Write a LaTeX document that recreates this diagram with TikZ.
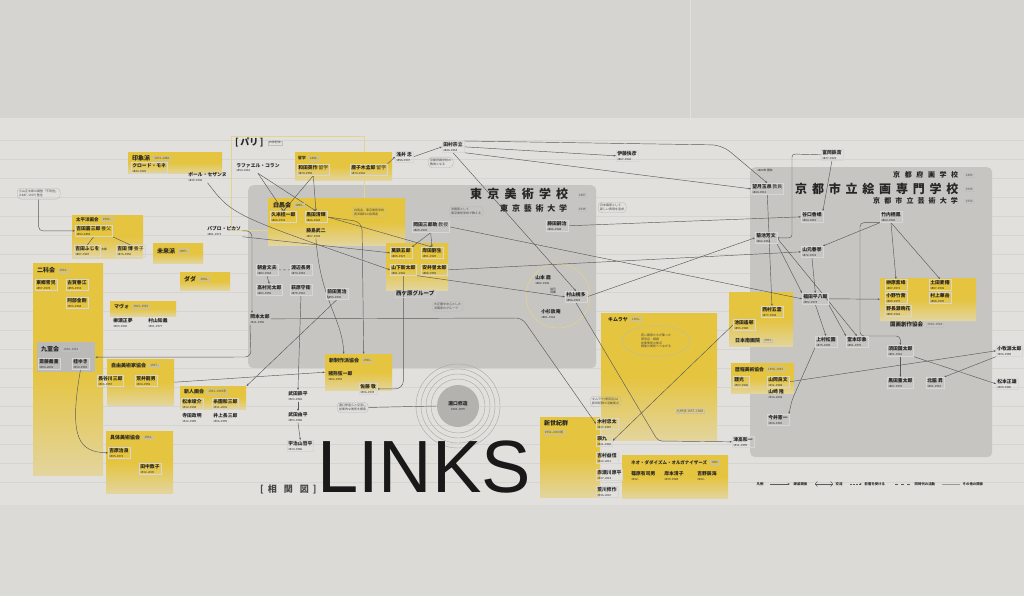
\documentclass[tikz,border=0pt]{standalone}
\usepackage{fontspec}
\setmainfont{Noto Sans CJK JP}
\newfontfamily\linksfont{Liberation Sans}
\usetikzlibrary{arrows.meta,shapes.geometric}
\pgfdeclarelayer{bg}
\pgfdeclarelayer{lines}
\pgfsetlayers{bg,lines,main}
\definecolor{wall}{HTML}{D5D4D1}
\definecolor{paper}{HTML}{E1E0DD}
\definecolor{floorc}{HTML}{DBDAD7}
\definecolor{gbox}{HTML}{C6C5C2}
\definecolor{gdark}{HTML}{BBBAB7}
\definecolor{ylw}{HTML}{E5C43F}
\definecolor{ink}{HTML}{262626}
\definecolor{lnc}{HTML}{5A5A5A}
\definecolor{rulec}{HTML}{D5D4D1}
\definecolor{ringc}{HTML}{A8A7A4}
\definecolor{discc}{HTML}{B3B2AF}
\definecolor{pale}{HTML}{E2D38F}
\newcommand{\dfont}{\fontsize{2.8}{3.2}\selectfont\mdseries}
\newcommand{\pnm}[2]{#1\\[-0.6pt]{\dfont #2}}
\tikzset{
  nm/.style={anchor=north west, align=left, inner sep=1.2pt, font=\fontsize{4.8}{5.4}\selectfont\bfseries, text=ink, draw=black!16, line width=0.3pt},
  nmf/.style={nm, draw=none},
  glab/.style={anchor=north west, inner sep=1pt, font=\fontsize{6}{7}\selectfont\bfseries, text=ink},
  gdate/.style={anchor=west, inner sep=0.8pt, font=\fontsize{3}{3.5}\selectfont, text=ink!80, draw=black!25, line width=0.3pt},
  note/.style={anchor=north west, align=left, rounded corners=4pt, draw=black!28, line width=0.35pt, inner sep=2pt, font=\fontsize{3}{3.8}\selectfont, text=ink!85},
  ybox/.style={anchor=north west, inner sep=0pt, top color=ylw, bottom color=ylw!40!paper, middle color=ylw, draw=none},
  gregion/.style={anchor=north west, inner sep=0pt, fill=gbox, rounded corners=5pt, draw=none},
  ttl/.style={anchor=north west, inner sep=0pt, text=ink, font=\bfseries},
  conn/.style={draw=lnc, line width=0.45pt, -{Stealth[length=2.4pt,width=1.8pt]}},
  link/.style={draw=lnc, line width=0.45pt},
  lgd/.style={anchor=west, inner sep=0.5pt, font=\fontsize{3.4}{4}\selectfont\bfseries, text=ink},
}
\newcommand{\grp}[4]{\node[glab] (#1) at (#2) {#3};\node[gdate] (#1d) at ([xshift=2pt]#1.east) {#4};}
\newcommand{\ybx}[5]{\node[ybox, minimum width=#4pt, minimum height=#5pt] (#1) at (#2,#3) {};}
\begin{document}
\begin{tikzpicture}[x=1pt,y=-1pt]
\useasboundingbox (0,0) rectangle (1024,596);
\begin{pgfonlayer}{bg}
\fill[wall] (0,0) rectangle (1024,596);
\fill[paper] (0,118) rectangle (1024,505);
\fill[floorc] (0,505) rectangle (1024,596);
\draw[black!12, line width=0.6pt] (690,0) -- (690,118);
\foreach \yy in {140,159,...,500} \draw[rulec, line width=0.3pt] (0,\yy) -- (1024,\yy);
\node[gregion, minimum width=348pt, minimum height=183pt] (tokyoreg) at (248,185) {};
\node[gregion, minimum width=242pt, minimum height=290pt] (kyotoreg) at (750,167) {};
\draw[pale, line width=0.5pt] (231,136) rectangle (364,230);
\ybx{imprbox}{128}{152}{94}{21}
\ybx{taiheibox}{72}{215}{71}{43}
\ybx{miraibox}{153}{243}{50}{20}
\ybx{dadabox}{180}{272}{50}{18}
\ybx{nikabox}{33}{263}{70}{212}
\node[anchor=north west, inner sep=0pt, fill=gdark, minimum width=58pt, minimum height=30pt] (kyushitsubox) at (37,342) {};
\ybx{mavobox}{110}{301}{66}{15}
\ybx{jiyubox}{107}{359}{67}{46}
\ybx{shinjinbox}{180}{386}{66}{23}
\ybx{gutaibox}{106}{431}{67}{62}
\ybx{parisybox}{295}{152}{97}{28}
\ybx{hakubabox}{268}{198}{137}{47}
\ybx{nishigabox}{386}{243}{62}{47}
\ybx{shinseibox}{325}{354}{67}{36}
\ybx{kimurayabox}{601}{313}{116}{127}
\ybx{shinseikibox}{540}{417}{60}{80}
\ybx{neodadabox}{622}{455}{106}{43}
\ybx{nangabox}{729}{292}{64}{54}
\ybx{rekiteibox}{731}{363}{63}{30}
\ybx{kokugabox}{880}{278}{96}{42}
\foreach \rr in {27,32,37,42} \draw[ringc, line width=0.4pt] (458,406) circle[radius=\rr pt];
\draw[pale, line width=0.6pt] (558,296) circle[radius=32pt];
\end{pgfonlayer}
% ---------- left ----------
\grp{impr}{131,154}{印象派}{1874–1886}
\node[nm] (monet) at (131,162) {\pnm{クロード・モネ}{1840–1926}};
\node[nmf] (cezanne) at (187,171) {\pnm{ポール・セザンヌ}{1839–1906}};
\node[note] (fudosha) at (17,188) {小山正太郎の画塾「不同舎」\\(1887–1907) 塾生};
\grp{taihei}{75,216}{\fontsize{4.5}{5}\selectfont 太平洋画会}{1902–}
\node[nm] (yoshidaK) at (75,225) {\pnm{吉田嘉三郎 \textmd{養父}}{1854–1894}};
\node[nm] (yoshidaF) at (74,245) {\pnm{吉田ふじを}{1887–1987}};
\node[nmf, font=\dfont] (fuufu) at (100,247) {夫婦};
\node[nm] (yoshidaH) at (116,245) {\pnm{吉田 博 \textmd{養子}}{1876–1950}};
\grp{mirai}{156,247}{未来派}{1909–}
\grp{dada}{183,275}{ダダ}{1916–}
\node[nmf] (picasso) at (206,225) {\pnm{パブロ・ピカソ}{1881–1973}};
\grp{nika}{36,266}{二科会}{1914–}
\node[nm] (togo) at (35,279) {\pnm{東郷青児}{1897–1978}};
\node[nm] (koga) at (66,279) {\pnm{古賀春江}{1895–1933}};
\node[nm] (abe) at (66,297) {\pnm{阿部金剛}{1900–1968}};
\grp{kyushitsu}{40,345}{九室会}{1938–1943}
\node[nm] (saito) at (38,358) {\pnm{斎藤義重}{1904–2001}};
\node[nm] (katsura) at (72,358) {\pnm{桂ゆき}{1913–1991}};
\grp{mavo}{113,303}{\fontsize{5}{6}\selectfont マヴォ}{1923–1925}
\node[nmf] (yanase) at (112,317) {\pnm{柳瀬正夢}{1900–1945}};
\node[nmf] (murayamaT) at (147,317) {\pnm{村山知義}{1901–1977}};
\grp{jiyu}{110,362}{\fontsize{5}{6}\selectfont 自由美術家協会}{1937–}
\node[nm] (hasegawa) at (97,375) {\pnm{長谷川三郎}{1906–1957}};
\node[nm] (arai) at (135,375) {\pnm{荒井龍男}{1904–1955}};
\grp{shinjin}{183,388}{\fontsize{5}{6}\selectfont 新人画会}{1943–1945年}
\node[nm] (matsumoto) at (181,398) {\pnm{松本竣介}{1912–1948}};
\node[nm] (itozono) at (212,398) {\pnm{糸園和三郎}{1911–2001}};
\node[nmf] (terada) at (181,412) {\pnm{寺田政明}{1912–1989}};
\node[nmf] (inoue) at (212,412) {\pnm{井上長三郎}{1906–1995}};
\grp{gutai}{109,434}{\fontsize{5}{6}\selectfont 具体美術協会}{1954–}
\node[nm] (yoshihara) at (108,447) {\pnm{吉原治良}{1905–1972}};
\node[nm] (tanaka) at (139,463) {\pnm{田中敦子}{1932–2005}};
% ---------- Paris ----------
\node[glab, font=\fontsize{9}{10}\selectfont\bfseries] (paris) at (234,137) {[\,パリ\,]};
\node[gdate] (parisd) at ([xshift=3pt]paris.east) {19世紀末};
\node[nmf] (collin) at (235,162) {\pnm{ラファエル・コラン}{1850–1916}};
\grp{ryugaku}{297,155}{\fontsize{3.8}{4}\selectfont 留学}{1884–}
\node[nm] (wada) at (297,164) {\pnm{和田英作 \textmd{留学}}{1874–1959}};
\node[nm] (kanokogi) at (350,164) {\pnm{鹿子木孟郎 \textmd{留学}}{1874–1941}};
\node[nm] (asai) at (395,151) {\pnm{浅井 忠}{1856–1907}};
\node[nm] (tamura) at (442,141) {\pnm{田村宗立}{1846–1918}};
\node[note] (tamuranote) at (428,157) {京都府画学校の\\教員となる};
\node[nm] (hirano) at (616,150) {\pnm{伊藤快彦}{1867–1942}};
\node[note] (nihonganote) at (598,202) {日本画家として\\新しい表現を追求};
\node[nm] (tomioka) at (821,149) {\pnm{富岡鉄斎}{1837–1924}};
% ---------- Tokyo ----------
\node[ttl, font=\fontsize{12}{12}\selectfont\bfseries] (tbg) at (470,188) {東\kern5.2pt 京\kern5.2pt 美\kern5.2pt 術\kern5.2pt 学\kern5.2pt 校};
\node[gdate] (tbgd) at (578,195) {1887};
\node[ttl, font=\fontsize{8}{8}\selectfont\bfseries] (tgd) at (500,204) {東\kern3.8pt 京\kern3.8pt 藝\kern3.8pt 術\kern3.8pt 大\kern3.8pt 学};
\node[gdate] (tgdd) at (578,209) {1949};
\grp{hakuba}{272,201}{白馬会}{1896–}
\node[nm] (kume) at (270,211) {\pnm{久米桂一郎}{1866–1934}};
\node[nm] (kuroda) at (305,211) {\pnm{黒田清輝}{1866–1924}};
\node[nmf] (fujishima) at (305,227) {\pnm{藤島武二}{1867–1943}};
\node[note] (hakubanote) at (352,207) {白馬会、東京美術学校\\西洋画科の指導者};
\node[note] (tokyonote) at (449,206) {洋画家として\\東京美術学校で教える};
\node[nm] (okada) at (412,221) {\pnm{岡田三郎助 \textmd{教授}}{1869–1939}};
\node[nm] (fujita) at (546,220) {\pnm{藤田嗣治}{1886–1968}};
\node[nm] (yorozu) at (390,247) {\pnm{萬鉄五郎}{1885–1927}};
\node[nm] (kishida) at (421,247) {\pnm{岸田劉生}{1891–1929}};
\node[nm] (yamashita) at (390,264) {\pnm{山下新太郎}{1881–1966}};
\node[nm] (yasui) at (421,264) {\pnm{安井曽太郎}{1888–1955}};
\node[glab, draw=black!20, line width=0.3pt, font=\fontsize{5.5}{6}\selectfont\bfseries] (nishiga) at (395,290) {西ケ原グループ};
\node[note] (nishiganote) at (432,301) {大正期を中心とした\\洋画家のグループ};
\node[nm] (asakura) at (256,264) {\pnm{朝倉文夫}{1883–1964}};
\node[nm] (watanabe) at (290,264) {\pnm{渡辺長男}{1874–1952}};
\node[nm] (takamura) at (256,284) {\pnm{高村光太郎}{1883–1956}};
\node[nm] (ogiwara) at (290,284) {\pnm{萩原守衛}{1879–1910}};
\node[nm] (maeda) at (326,288) {\pnm{前田寛治}{1896–1930}};
\node[nmf] (okamoto) at (249,313) {\pnm{岡本太郎}{1911–1996}};
\node[nmf] (yamamotoK) at (534,274) {\pnm{山本 鼎}{1882–1946}};
\node[nm] (murayamaK) at (565,291) {\pnm{村山槐多}{1896–1919}};
\node[nmf] (kosugi) at (540,308) {\pnm{小杉放庵}{1881–1964}};
\node[nmf, font=\dfont] (itoko) at (549,287) {従兄\\同郷};
% ---------- bottom ----------
\grp{shinsei}{328,357}{\fontsize{5}{6}\selectfont 新制作派協会}{1936–}
\node[nmf] (inokuma) at (327,370) {\pnm{猪熊弦一郎}{1902–1993}};
\node[nm] (satoK) at (359,383) {\pnm{佐藤 敬}{1906–1978}};
\node[nmf] (takeda1) at (287,390) {\pnm{武田鉄平}{1903–1982}};
\node[nmf] (takeda2) at (287,411) {\pnm{武田由平}{1893–1986}};
\node[nm] (ujiyama) at (287,440) {\pnm{宇治山哲平}{1910–1986}};
\node[note] (takinote) at (337,402) {瀧口修造らと交流し\\前衛的な美術を模索};
\node[circle, fill=discc, minimum size=42pt, inner sep=0pt, align=center, font=\fontsize{4.8}{5.4}\selectfont\bfseries, text=ink] (taki) at (458,406) {瀧口修造\\[-0.6pt]{\dfont 1903–1979}};
\node[anchor=base west, inner sep=0pt, text=black!90, font=\linksfont\fontsize{74}{74}\selectfont] (links) at (317,492) {LINKS};
\node[anchor=base west, inner sep=0pt, text=ink!85, font=\fontsize{9}{9}\selectfont\bfseries] (soukan) at (260,492) {[\hspace{4pt}相\hspace{7pt}関\hspace{7pt}図\hspace{4pt}]};
% ---------- right lower ----------
\node[glab] (shinseiki) at (543,419) {新世紀群};
\node[gdate, anchor=north west] (shinseikid) at (544,430) {1951–2000頃};
\node[nm] (kimura) at (596,418) {\pnm{木村忠太}{1917–1987}};
\node[nm] (eikyu) at (596,435) {\pnm{瑛九}{1911–1960}};
\node[nm] (yoshimura) at (596,452) {\pnm{吉村益信}{1932–2011}};
\node[nm] (akasegawa) at (596,469) {\pnm{赤瀬川原平}{1937–2014}};
\node[nm] (arakawa) at (596,486) {\pnm{荒川修作}{1936–2010}};
\grp{neodada}{630,459}{\fontsize{4.5}{5}\selectfont ネオ・ダダイズム・オルガナイザーズ}{1960}
\node[nmf] (shinohara) at (630,470) {\pnm{篠原有司男}{1932–}};
\node[nmf] (kishimoto) at (663,470) {\pnm{岸本清子}{1939–1988}};
\node[nmf] (yoshino) at (696,470) {\pnm{吉野辰海}{1940–}};
\grp{kimuraya}{607,316}{\fontsize{5}{6}\selectfont キムラヤ}{1926–}
\node[ellipse, draw=black!28, line width=0.35pt, minimum width=68pt, minimum height=31pt, inner sep=0pt, align=left, font=\fontsize{3}{3.9}\selectfont, text=ink!85] (kimurayanote) at (656,341) {若い画家たちが集った\\喫茶店・画廊\\前衛美術の拠点\\戦後の美術へつながる};
\node[note] (kissanote) at (590,396) {キムラヤ(喫茶店)は\\新世紀群の活動拠点};
\node[gdate, font=\fontsize{3.2}{3.6}\selectfont] (kyushuha) at (676,411) {九州派 1957–1968};
\node[nm] (tsutaka) at (732,436) {\pnm{津高和一}{1911–1995}};
% ---------- Kyoto ----------
\node[ttl, font=\fontsize{7}{7}\selectfont\bfseries] (kfg) at (893,171) {京\kern4.6pt 都\kern4.6pt 府\kern4.6pt 画\kern4.6pt 学\kern4.6pt 校};
\node[gdate] (kfgd) at (965,175) {1880};
\node[ttl, font=\fontsize{12}{12}\selectfont\bfseries] (kcs) at (795,183) {京\kern4.8pt 都\kern4.8pt 市\kern4.8pt 立\kern4.8pt 絵\kern4.8pt 画\kern4.8pt 専\kern4.8pt 門\kern4.8pt 学\kern4.8pt 校};
\node[gdate] (kcsd) at (965,189) {1909};
\node[ttl, font=\fontsize{7}{7}\selectfont\bfseries] (kcg) at (873,197) {京\kern4.1pt 都\kern4.1pt 市\kern4.1pt 立\kern4.1pt 芸\kern4.1pt 術\kern4.1pt 大\kern4.1pt 学};
\node[gdate] (kcgd) at (965,201) {1950};
\node[nmf, font=\dfont] (kfgopen) at (756,168) {1880年 開校};
\node[nm] (mochizuki) at (751,183) {\pnm{望月玉泉 \textmd{教員}}{1844–1913}};
\node[nm] (taniguchi) at (801,211) {\pnm{谷口香嶠}{1864–1915}};
\node[nm] (takeuchi) at (880,211) {\pnm{竹内栖鳳}{1864–1942}};
\node[nm] (kikuchi) at (755,232) {\pnm{菊池芳文}{1862–1918}};
\node[nm] (yamamotoS) at (801,246) {\pnm{山元春挙}{1872–1933}};
\node[nm] (fukuda) at (802,293) {\pnm{福田平八郎}{1892–1974}};
\node[nm] (nishimura) at (761,306) {\pnm{西村五雲}{1877–1938}};
\node[nm] (ikeda) at (733,319) {\pnm{池田遙邨}{1895–1988}};
\grp{nanga}{734,337}{\fontsize{5}{6}\selectfont 日本南画院}{1921}
\grp{rekitei}{734,366}{\fontsize{4.8}{6}\selectfont 歴程美術協会}{1938–1943}
\node[nm] (aikou) at (733,376) {\pnm{靉光}{1907–1946}};
\node[nm] (yamaoka) at (767,376) {\pnm{山岡良文}{1911–1968}};
\node[nmf] (yamazaki) at (767,388) {\pnm{山崎 隆}{1916–2004}};
\node[nm] (imai) at (767,414) {\pnm{今井憲一}{1906–1981}};
\node[nm] (uemura) at (815,336) {\pnm{上村松園}{1875–1949}};
\node[nm] (domoto) at (846,336) {\pnm{堂本印象}{1891–1975}};
\node[nm] (sakakibara) at (885,279) {\pnm{榊原紫峰}{1887–1971}};
\node[nm] (tsuchida) at (929,279) {\pnm{土田麦僊}{1887–1936}};
\node[nm] (ono) at (885,292) {\pnm{小野竹喬}{1889–1979}};
\node[nm] (murakami) at (929,292) {\pnm{村上華岳}{1888–1939}};
\node[nm] (nonagase) at (885,305) {\pnm{野長瀬晩花}{1889–1964}};
\grp{kokuga}{889,321}{\fontsize{5.5}{6}\selectfont 国画創作協会}{1918–1928}
\node[nm] (suda) at (887,345) {\pnm{須田国太郎}{1891–1961}};
\node[nm] (kurodaJ) at (887,377) {\pnm{黒田重太郎}{1887–1970}};
\node[nm] (kitawaki) at (926,377) {\pnm{北脇 昇}{1901–1951}};
\node[nm] (komaki) at (996,345) {\pnm{小牧源太郎}{1906–1989}};
\node[nm] (matsumotoM) at (996,378) {\pnm{松本正雄}{1909–1980}};
% ---------- legend ----------
\node[lgd] (lg0) at (756,484) {凡例};
\coordinate (la1) at (770,484); \coordinate (la2) at (790,484);
\node[lgd] (lg1) at (793,484) {師弟関係};
\coordinate (lb1) at (815,484); \coordinate (lb2) at (833,484);
\node[lgd] (lg2) at (835,484) {交流};
\coordinate (lc1) at (850,484); \coordinate (lc2) at (862,484);
\node[lgd] (lg3) at (864,484) {影響を受ける};
\coordinate (ld1) at (895,484); \coordinate (ld2) at (912,484);
\node[lgd] (lg4) at (914,484) {同時代の活動};
\coordinate (le1) at (942,484); \coordinate (le2) at (960,484);
\node[lgd] (lg5) at (962,484) {その他の関係};
% ---------- connectors ----------
\begin{pgfonlayer}{lines}
\draw[conn] (la1) -- (la2);
\draw[conn, <->] (lb1) -- (lb2);
\draw[conn, densely dotted] (lc1) -- (lc2);
\draw[link, dashed] (ld1) -- (ld2);
\draw[link, black!40] (le1) -- (le2);
\draw[conn, rounded corners=4pt] (fudosha.south) |- (yoshidaK.west);
\draw[link] (yoshidaK.south) -- (yoshidaF.north);
\draw[link] (yoshidaK.south east) -- (yoshidaH.north);
\draw[conn] (collin.south) -- (kume.north);
\draw[conn] (collin.south) -- (kuroda.north);
\draw[conn] (wada.south) -- (kume.north);
\draw[conn] (wada.south) -- (kuroda.north);
\draw[conn] (kanokogi.north east) -- (asai.west);
\draw[conn] (asai.east) -- (tamura.west);
\draw[conn] (tamura.east) -- (hirano.west);
\draw[conn, rounded corners=10pt] (tamura.north east) -- (722,145) -- (mochizuki.north);
\draw[conn] (tamura.south east) -- (mochizuki.west);
\draw[conn] (tamura.south) -- (murayamaK.north);
\draw[conn, rounded corners=6pt] (picasso.east) -| ([xshift=3pt]okamoto.north west);
\draw[conn] (picasso.south east) -- (yorozu.west);
\draw[conn] (cezanne.south) .. controls (232,215) .. (yamashita.west);
\draw[conn, rounded corners=6pt] ([xshift=1pt]okamoto.south west) -- (251,357) -- (kyushitsubox.east);
\draw[conn, rounded corners=6pt] (okamoto.east) -- (522,318) -- (kimura.west);
\draw[conn] (katsura.south) .. controls (68,440) and (80,452) .. (yoshihara.west);
\draw[conn] (jiyubox.east) -- (shinseibox.west);
\draw[conn] (maeda.south) -- (shinjinbox.north east);
\draw[conn] (kuroda.east) -- (kishida.north);
\draw[conn] (okada.south) -- (yorozu.north east);
\draw[conn] (okada.south) -- (kishida.north);
\draw[conn] (okada.east) -- (fukuda.west);
\draw[conn] (yasui.east) -- (yamamotoS.west);
\draw[conn] (fujita.east) -- (taniguchi.west);
\draw[conn] (yamashita.south east) -- (murayamaK.west);
\draw[conn] (murayamaK.east) -- (kikuchi.west);
\draw[conn, rounded corners=8pt] (yamashita.south) |- (satoK.east);
\draw[conn] (fujishima.south) .. controls (320,300) and (343,320) .. ([xshift=-15pt]shinseibox.north);
\draw[conn, rounded corners=8pt] (kuroda.east) -- (362,222) -- ([xshift=5pt]shinseibox.north);
\draw[conn] (ogiwara.south) -- (takeda1.north);
\draw[conn] (takeda1.south) -- (takeda2.north);
\draw[conn] (takeda2.south) -- (ujiyama.north);
\draw[link, densely dashed] (asakura.east) -- (watanabe.west);
\draw[conn] (asakura.south) -- (takamura.north);
\draw[link] (takinote.east) -- (taki.west);
\draw[conn, rounded corners=4pt] (murayamaK.south) -- (658,441) -- (tsutaka.west);
\draw[conn] (ikeda.west) -- (eikyu.east);
\draw[conn, rounded corners=3pt] (tomioka.west) -- (792,154) |- (kikuchi.east);
\draw[conn] (tomioka.south) -- (taniguchi.north east);
\draw[conn] (takeuchi.south west) -- (yamamotoS.north east);
\draw[conn] (takeuchi.south) -- (sakakibara.north);
\draw[conn] (takeuchi.south) -- (tsuchida.north);
\draw[conn] (kikuchi.south east) -- (fukuda.north west);
\draw[conn] (yamamotoS.south) -- (fukuda.north);
\draw[conn] (kikuchi.east) -- (domoto.north);
\draw[conn] (fukuda.east) -- (kokugabox.west);
\draw[conn] (fukuda.south) -- (uemura.north);
\draw[conn] (fukuda.south east) -- (domoto.north west);
\draw[conn] (mochizuki.south) -- (nishimura.north);
\draw[conn, rounded corners=4pt] (uemura.south west) -- (792,400) -- (imai.north east);
\draw[conn, rounded corners=4pt] (takeuchi.south west) -| (860,336) -| (suda.north);
\draw[conn] (suda.south) -- (kurodaJ.north);
\draw[conn] (suda.south east) -- (matsumotoM.west);
\draw[conn] (komaki.south west) -- (kitawaki.north east);
\draw[conn] (yamaoka.east) -- (komaki.west);
\end{pgfonlayer}
\end{tikzpicture}
\end{document}
